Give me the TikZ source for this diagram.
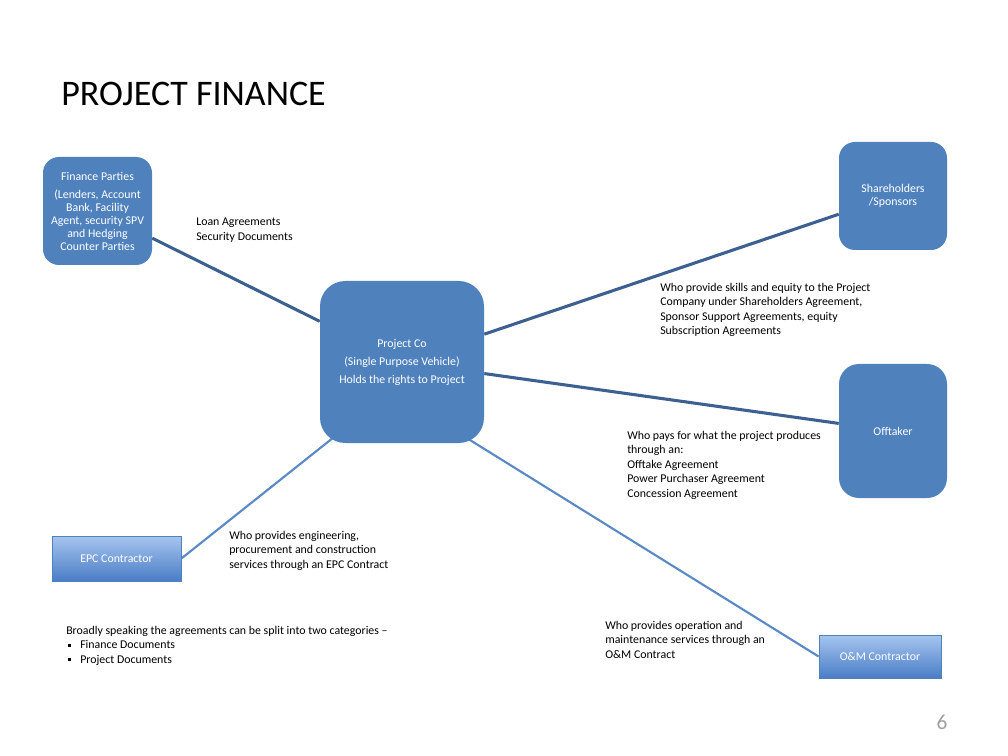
\documentclass[tikz,border=0pt]{standalone}
\usepackage{fontspec}
\setmainfont{Carlito}
\usetikzlibrary{positioning,backgrounds}
\definecolor{boxblue}{HTML}{4F81BD}
\definecolor{linkdark}{HTML}{3C6090}
\definecolor{linklight}{HTML}{5A8AC6}
\definecolor{shadetop}{HTML}{A6C5EF}
\definecolor{shadebot}{HTML}{4A7DC6}
\newcommand\notesize{\fontsize{8.9}{10.8}\selectfont}
\newcommand\boxsize{\fontsize{8.9}{9.75}\selectfont}
\newcommand\sqbullet{\makebox[10.5pt][l]{\hspace*{1.5pt}\raisebox{1.7pt}{\rule{2.3pt}{2.3pt}}}}

\begin{document}
\begin{tikzpicture}[
  x=0.75pt, y=-0.75pt,
  party/.style={fill=boxblue,text=white,inner sep=0pt,align=center,font=\boxsize},
  contractor/.style={draw=boxblue,line width=0.6pt,top color=shadetop,bottom color=shadebot,text=white,inner sep=0pt,font=\notesize},
  note/.style={anchor=north west,inner sep=0pt,align=left,font=\notesize},
  bold link/.style={line width=2.3pt,linkdark},
  thin link/.style={line width=1.6pt,linklight}
]
  \useasboundingbox (0,0) rectangle (1008,756);

  \node[anchor=base west,inner sep=0pt,font=\fontsize{27}{32}\selectfont] (title) at (61,106) {PROJECT FINANCE};

  % parties round the project company
  \node[party,rounded corners=12pt,minimum width=81.75pt,minimum height=81pt] (finance) at (97.5,211)
    {Finance Parties\\[3.75pt](Lenders, Account\\Bank, Facility\\Agent, security SPV\\and Hedging\\Counter Parties};
  \node[party,rounded corners=12pt,minimum width=81pt,minimum height=81pt] (sponsors) at (893,196)
    {Shareholders\\/Sponsors};
  \node[party,rounded corners=19pt,minimum width=123pt,minimum height=121.5pt,font=\fontsize{8.9}{13.5}\selectfont] (projectco) at (402,362)
    {Project Co\\(Single Purpose Vehicle)\\Holds the rights to Project};
  \node[party,rounded corners=15pt,minimum width=81pt,minimum height=100.5pt] (offtaker) at (893,431)
    {Offtaker};
  \node[contractor,minimum width=96.75pt,minimum height=33.75pt] (epc) at (116.5,558.5) {EPC Contractor};
  \node[contractor,minimum width=91.5pt,minimum height=32.25pt] (om) at (880,656.5) {O\&M Contractor};

  % agreements
  \node[note] (loan) at (196,218) {Loan Agreements\\Security Documents};
  \node[note] (skills) at (660,283) {Who provide skills and equity to the Project\\Company under Shareholders Agreement,\\Sponsor Support Agreements, equity\\Subscription Agreements};
  \node[note] (pays) at (627,431) {Who pays for what the project produces\\through an:\\Offtake Agreement\\Power Purchaser Agreement\\Concession Agreement};
  \node[note] (epcnote) at (229,531) {Who provides engineering,\\procurement and construction\\services through an EPC Contract};
  \node[note] (omnote) at (605,621) {Who provides operation and\\maintenance services through an\\O\&M Contract};
  \node[note] (split) at (66,626) {Broadly speaking the agreements can be split into two categories --\\\sqbullet Finance Documents\\\sqbullet Project Documents};

  \node[text=gray!75,font=\fontsize{16}{19}\selectfont] (pagenum) at (942,722) {6};

  \begin{scope}[on background layer]
    \fill[white] (0,0) rectangle (1008,756);
    \draw[bold link] (finance) -- (projectco);
    \draw[bold link] (projectco) -- (sponsors);
    \draw[bold link] (projectco) -- (offtaker);
    \draw[thin link,shorten <=-8pt] (projectco.227) -- (epc.east);
    \draw[thin link,shorten <=-8pt] (projectco.312) -- (om.west);
  \end{scope}
\end{tikzpicture}
\end{document}
